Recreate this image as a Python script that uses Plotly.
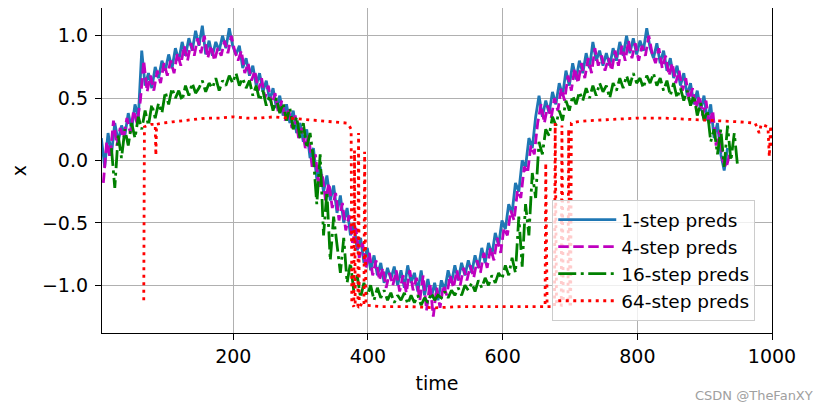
import plotly.graph_objects as go

# ---------------- data ----------------
t1_start, t4_start, t16_start, t_step = 4, 7, 19, 5

one_step = [
    0.18, -0.05, 0.22, 0.05, 0.30, 0.15, 0.28, 0.20, 0.38, 0.25,
    0.45, 0.35, 0.88, 0.60, 0.70, 0.58, 0.75, 0.66, 0.80, 0.72,
    0.85, 0.74, 0.90, 0.80, 0.95, 0.84, 0.98, 0.88, 1.04, 0.92,
    1.08, 0.85, 0.96, 0.84, 0.95, 0.88, 1.00, 0.90, 1.06, 0.92,
    0.85, 0.92, 0.74, 0.82, 0.68, 0.76, 0.60, 0.70, 0.55, 0.64,
    0.48, 0.58, 0.42, 0.52, 0.36, 0.45, 0.30, 0.40, 0.22, 0.30,
    0.15, 0.25, 0.02, 0.10, -0.15, -0.05, -0.25, -0.12, -0.32, -0.20,
    -0.42, -0.28, -0.50, -0.38, -0.60, -0.50, -0.72, -0.62, -0.82, -0.70,
    -0.88, -0.76, -0.92, -0.82, -0.98, -0.86, -0.95, -0.85, -1.00, -0.88,
    -1.02, -0.84, -0.98, -0.90, -1.05, -0.88, -1.08, -0.95, -1.10, -0.98,
    -1.12, -0.96, -1.04, -0.88, -0.98, -0.84, -0.96, -0.82, -0.92, -0.80,
    -0.90, -0.76, -0.86, -0.70, -0.82, -0.66, -0.76, -0.58, -0.68, -0.48,
    -0.55, -0.35, -0.42, -0.18, -0.25, 0.00, -0.05, 0.18, 0.10, 0.35,
    0.52, 0.35, 0.48, 0.38, 0.55, 0.45, 0.62, 0.52, 0.72, 0.60,
    0.78, 0.65, 0.80, 0.70, 0.86, 0.74, 0.95, 0.80, 0.88, 0.76,
    0.86, 0.76, 0.90, 0.80, 0.95, 0.84, 1.00, 0.86, 0.98, 0.85,
    0.96, 0.88, 1.06, 0.90, 0.82, 0.94, 0.78, 0.88, 0.72, 0.82,
    0.66, 0.76, 0.60, 0.70, 0.52, 0.62, 0.45, 0.56, 0.40, 0.52,
    0.32, 0.45, 0.18, 0.30, 0.05, -0.08, 0.10,
]

four_step = [
    -0.18, 0.15, 0.02, 0.32, 0.12, 0.26, 0.18, 0.34, 0.22, 0.40,
    0.30, 0.48, 0.80, 0.55, 0.68, 0.56, 0.72, 0.62, 0.78, 0.68,
    0.80, 0.70, 0.86, 0.76, 0.92, 0.80, 0.94, 0.84, 0.98, 0.86,
    1.00, 0.82, 0.92, 0.80, 0.90, 0.84, 0.96, 0.86, 1.00, 0.88,
    0.80, 0.88, 0.70, 0.78, 0.64, 0.72, 0.56, 0.66, 0.50, 0.60,
    0.44, 0.54, 0.38, 0.48, 0.32, 0.42, 0.26, 0.36, 0.18, 0.26,
    0.10, 0.20, -0.05, 0.05, -0.22, -0.10, -0.32, -0.18, -0.38, -0.26,
    -0.48, -0.34, -0.56, -0.44, -0.66, -0.54, -0.78, -0.66, -0.86, -0.74,
    -0.92, -0.80, -0.96, -0.86, -1.02, -0.90, -1.00, -0.88, -1.05, -0.92,
    -1.06, -0.88, -1.04, -0.94, -1.12, -0.92, -1.20, -0.98, -1.25, -1.02,
    -1.18, -1.00, -1.08, -0.92, -1.02, -0.88, -1.00, -0.86, -0.96, -0.84,
    -0.94, -0.80, -0.90, -0.74, -0.86, -0.70, -0.80, -0.62, -0.74, -0.54,
    -0.60, -0.40, -0.48, -0.24, -0.30, -0.05, -0.10, 0.12, 0.05, 0.30,
    0.45, 0.30, 0.44, 0.34, 0.50, 0.40, 0.58, 0.48, 0.68, 0.56,
    0.74, 0.62, 0.78, 0.66, 0.82, 0.70, 0.90, 0.76, 0.84, 0.72,
    0.82, 0.72, 0.88, 0.76, 0.92, 0.80, 0.96, 0.82, 0.94, 0.80,
    0.92, 0.84, 1.00, 0.86, 0.78, 0.90, 0.74, 0.84, 0.68, 0.78,
    0.62, 0.72, 0.56, 0.66, 0.48, 0.58, 0.42, 0.52, 0.36, 0.48,
    0.28, 0.40, 0.12, 0.24, 0.00, -0.06, 0.05,
]

sixteen_step = [
    0.10, -0.22, 0.20, 0.02, 0.25, 0.12, 0.30, 0.18, 0.35, 0.25,
    0.40, 0.28, 0.45, 0.34, 0.46, 0.38, 0.55, 0.45, 0.58, 0.50,
    0.56, 0.48, 0.60, 0.52, 0.62, 0.54, 0.58, 0.64, 0.55, 0.62,
    0.58, 0.66, 0.56, 0.64, 0.60, 0.68, 0.62, 0.70, 0.60, 0.66,
    0.58, 0.64, 0.52, 0.60, 0.48, 0.56, 0.44, 0.52, 0.40, 0.50,
    0.38, 0.46, 0.32, 0.42, 0.25, 0.35, 0.18, 0.30, 0.10, 0.22,
    0.02, -0.35, 0.05, -0.60, -0.25, -0.80, -0.45, -0.70, -0.90, -0.62,
    -0.98, -0.82, -1.05, -0.92, -1.10, -0.98, -1.08, -1.00, -1.12, -1.02,
    -1.10, -1.04, -1.12, -1.06, -1.14, -1.08, -1.12, -1.06, -1.15, -1.08,
    -1.14, -1.08, -1.16, -1.10, -1.14, -1.06, -1.12, -1.08, -1.10, -1.05,
    -1.10, -1.04, -1.08, -1.02, -1.08, -1.00, -1.04, -0.98, -1.05, -0.96,
    -1.02, -0.94, -1.00, -0.92, -0.98, -0.90, -0.95, -0.84, -0.92, -0.78,
    -0.90, -0.45, -0.85, -0.35, -0.60, -0.10, -0.30, 0.15, 0.05, 0.25,
    0.20, 0.35, 0.28, 0.40, 0.32, 0.48, 0.40, 0.52, 0.45, 0.55,
    0.48, 0.58, 0.50, 0.60, 0.52, 0.62, 0.55, 0.60, 0.50, 0.62,
    0.56, 0.66, 0.58, 0.68, 0.60, 0.70, 0.62, 0.66, 0.58, 0.68,
    0.62, 0.70, 0.60, 0.66, 0.56, 0.64, 0.52, 0.62, 0.50, 0.58,
    0.48, 0.56, 0.44, 0.52, 0.36, 0.46, 0.32, 0.40, 0.15, 0.25,
    0.05, 0.25, -0.05, 0.28, 0.00, 0.22, -0.05,
]

t64 = [67, 68, 72, 78, 84, 85, 86, 95, 110, 125, 140, 160, 180, 200, 220,
       240, 260, 280, 300, 320, 340, 360, 369, 373, 375, 376, 379, 380, 381,
       385, 386, 387, 394, 395, 397, 420, 460, 500, 540, 580, 620, 660, 663,
       664, 666, 677, 678, 680, 687, 688, 690, 697, 698, 700, 701, 702, 710,
       730, 760, 800, 840, 880, 920, 950, 975, 981, 984, 990, 994, 996, 998,
       999, 1000]
sixtyfour_step = [-1.12, 0.27, 0.28, 0.29, 0.29, 0.04, 0.29, 0.30, 0.31, 0.32,
                  0.33, 0.34, 0.34, 0.35, 0.34, 0.34, 0.35, 0.34, 0.33, 0.32,
                  0.31, 0.30, 0.30, 0.27, 0.25, -1.15, -1.17, 0.08, -1.16,
                  -1.17, 0.22, -1.15, -1.17, 0.07, -1.16, -1.17, -1.17, -1.18,
                  -1.17, -1.17, -1.17, -1.17, -1.17, -0.02, -1.17, -1.17, 0.30,
                  -1.15, -1.16, 0.28, -1.12, -1.12, 0.25, -1.15, -1.15, 0.30,
                  0.31, 0.32, 0.33, 0.34, 0.34, 0.33, 0.32, 0.31, 0.30, 0.22,
                  0.29, 0.28, 0.27, 0.03, 0.28, 0.10, 0.15]

x_ticks = [200, 400, 600, 800, 1000]
y_ticks = [-1.0, -0.5, 0.0, 0.5, 1.0]
y_tick_text = ["\u22121.0", "\u22120.5", "0.0", "0.5", "1.0"]
labels = ["1-step preds", "4-step preds", "16-step preds", "64-step preds"]

# ---------------- figure ----------------
def times(start, n):
    return [start + t_step * i for i in range(n)]

FONT = "DejaVu Sans"
fig = go.Figure()
fig.add_trace(go.Scatter(x=times(t1_start, len(one_step)), y=one_step, mode="lines",
                         name=labels[0], line=dict(color="#1f77b4", width=2.8)))
fig.add_trace(go.Scatter(x=times(t4_start, len(four_step)), y=four_step, mode="lines",
                         name=labels[1], line=dict(color="#bf00bf", width=2.8, dash="10.5px,4.5px")))
fig.add_trace(go.Scatter(x=times(t16_start, len(sixteen_step)), y=sixteen_step, mode="lines",
                         name=labels[2], line=dict(color="#008000", width=2.8,
                                                   dash="18px,4.5px,3px,4.5px")))
fig.add_trace(go.Scatter(x=t64, y=sixtyfour_step, mode="lines",
                         name=labels[3], line=dict(color="#ff0000", width=2.8, dash="3px,4.5px")))

axis_common = dict(showgrid=True, gridcolor="#b0b0b0", gridwidth=1.2,
                   showline=True, linecolor="black", linewidth=1.3, mirror=True,
                   ticks="outside", ticklen=6, tickwidth=1.3, tickcolor="black",
                   zeroline=False, tickfont=dict(family=FONT, size=19, color="black"))

fig.update_xaxes(range=[5, 1000], tickvals=x_ticks, ticktext=[str(v) for v in x_ticks],
                 title=dict(text="time", font=dict(family=FONT, size=19, color="black"), standoff=10),
                 **axis_common)
fig.update_yaxes(range=[-1.382, 1.222], tickvals=y_ticks, ticktext=y_tick_text,
                 title=dict(text="x", font=dict(family=FONT, size=19, color="black"), standoff=14),
                 ticklabelstandoff=3, **axis_common)

fig.update_layout(
    width=823, height=402,
    margin=dict(l=94, r=59, t=0, b=77),
    paper_bgcolor="white", plot_bgcolor="white",
    font=dict(family=FONT, size=19, color="black"),
    showlegend=True,
    legend=dict(x=0.672, y=0.409, xanchor="left", yanchor="top",
                bgcolor="rgba(255,255,255,0.8)", bordercolor="#cccccc", borderwidth=1,
                font=dict(family=FONT, size=18.5, color="black"),
                tracegroupgap=0, itemwidth=58),
    annotations=[dict(text="CSDN @TheFanXY", xref="paper", yref="paper",
                      x=1.064, y=-0.191, xanchor="right", yanchor="middle",
                      showarrow=False, font=dict(family=FONT, size=13, color="#a0a0a0"))],
)

fig.write_html("out.html")
